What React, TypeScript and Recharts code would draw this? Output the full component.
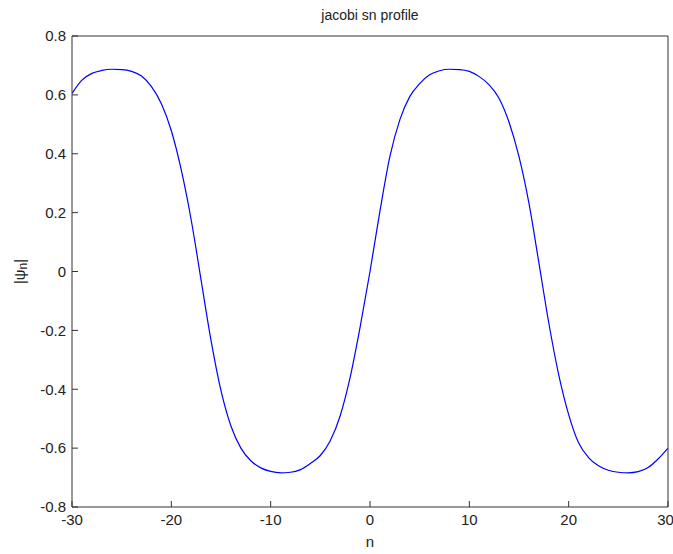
import React from 'react';
import { LineChart, Line, XAxis, YAxis } from 'recharts';

// n positions (integers from -30 to 30)
const nValues: number[] = [
  -30, -29, -28, -27, -26, -25, -24, -23, -22, -21,
  -20, -19, -18, -17, -16, -15, -14, -13, -12, -11,
  -10, -9, -8, -7, -6, -5, -4, -3, -2, -1,
  0, 1, 2, 3, 4, 5, 6, 7, 8, 9,
  10, 11, 12, 13, 14, 15, 16, 17, 18, 19,
  20, 21, 22, 23, 24, 25, 26, 27, 28, 29, 30,
];

// |psi_n| values
const psiValues: number[] = [
  0.605, 0.650, 0.673, 0.683, 0.687, 0.686, 0.680, 0.664, 0.628, 0.570,
  0.478, 0.345, 0.175, -0.030, -0.235, -0.405, -0.525, -0.600, -0.643, -0.667,
  -0.679, -0.684, -0.682, -0.673, -0.652, -0.625, -0.575, -0.490, -0.360, -0.190,
  0.000, 0.205, 0.390, 0.515, 0.594, 0.638, 0.668, 0.682, 0.687, 0.686,
  0.680, 0.662, 0.634, 0.588, 0.507, 0.390, 0.232, 0.030, -0.175, -0.351,
  -0.486, -0.582, -0.632, -0.660, -0.675, -0.682, -0.684, -0.680, -0.666, -0.637, -0.600,
];

const xTicks: number[] = [-30, -20, -10, 0, 10, 20, 30];
const yTicks: number[] = [-0.8, -0.6, -0.4, -0.2, 0, 0.2, 0.4, 0.6, 0.8];

const titleText = 'jacobi sn profile';
const xLabelText = 'n';

const data = nValues.map((n, i) => ({ n, v: psiValues[i] }));

const FONT = '"Liberation Sans", Arial, Helvetica, sans-serif';
const AXIS_COLOR = '#333333';
const TEXT_COLOR = '#222222';

const YLabel = (props: any) => {
  const vb = props.viewBox || { x: 0, y: 0, width: 0, height: 0 };
  const cx = vb.x + 7;
  const cy = vb.y + vb.height / 2;
  return (
    <text
      transform={`translate(${cx},${cy}) rotate(-90)`}
      textAnchor="middle"
      dominantBaseline="central"
      fontFamily={FONT}
      fontSize={15}
      fill={TEXT_COLOR}
    >
      |ψ<tspan fontSize={12} dy={4}>n</tspan><tspan dy={-4}>|</tspan>
    </text>
  );
};

export default function App() {
  return (
    <div style={{ position: 'absolute', left: 0, top: 0, width: 673, height: 554, background: '#ffffff' }}>
      <div
        style={{
          position: 'absolute',
          left: 72,
          width: 596,
          top: 6,
          textAlign: 'center',
          fontFamily: FONT,
          fontSize: 14,
          color: TEXT_COLOR,
          lineHeight: '18px',
        }}
      >
        {titleText}
      </div>
      <LineChart
        width={673}
        height={554}
        data={data}
        margin={{ top: 35, right: 4, bottom: 3, left: 12 }}
      >
        <XAxis
          xAxisId="bottom"
          dataKey="n"
          type="number"
          domain={[-30, 30]}
          ticks={xTicks}
          allowDataOverflow
          orientation="bottom"
          height={44}
          stroke={AXIS_COLOR}
          tickSize={-6}
          tickMargin={13}
          tick={{ fill: TEXT_COLOR, fontSize: 15, fontFamily: FONT }}
          label={{ value: xLabelText, position: 'insideBottom', offset: 4, fill: TEXT_COLOR, fontSize: 15, fontFamily: FONT }}
        />
        <XAxis
          xAxisId="top"
          dataKey="n"
          type="number"
          domain={[-30, 30]}
          ticks={xTicks}
          allowDataOverflow
          orientation="top"
          height={1}
          stroke={AXIS_COLOR}
          tickSize={-6}
          tick={false}
        />
        <YAxis
          yAxisId="left"
          type="number"
          domain={[-0.8, 0.8]}
          ticks={yTicks}
          allowDataOverflow
          orientation="left"
          width={60}
          stroke={AXIS_COLOR}
          tickSize={-6}
          tickMargin={12}
          tick={{ fill: TEXT_COLOR, fontSize: 15, fontFamily: FONT }}
          tickFormatter={(v: number) => String(v)}
          label={{ content: YLabel }}
        />
        <YAxis
          yAxisId="right"
          type="number"
          domain={[-0.8, 0.8]}
          ticks={yTicks}
          allowDataOverflow
          orientation="right"
          width={1}
          stroke={AXIS_COLOR}
          tickSize={-6}
          tick={false}
        />
        <Line
          xAxisId="bottom"
          yAxisId="left"
          type="monotone"
          dataKey="v"
          stroke="#0000ff"
          strokeWidth={1.2}
          dot={false}
          activeDot={false}
          isAnimationActive={false}
        />
      </LineChart>
    </div>
  );
}
